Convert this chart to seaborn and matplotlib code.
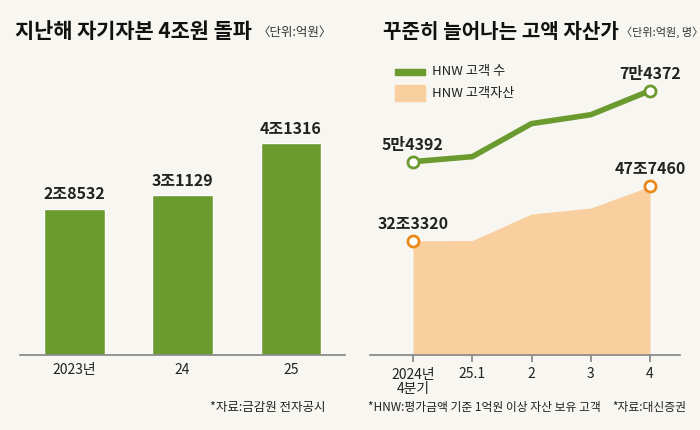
import matplotlib
matplotlib.use("Agg")
import matplotlib.pyplot as plt
import seaborn as sns
import pandas as pd

sns.set_theme(style="white")
plt.rcParams['font.family'] = ['Noto Sans CJK KR', 'DejaVu Sans']

bar_cats = ["2023년", "24", "25"]
equity = [28532, 31129, 41316]  # 억원

quarters = ["2024년\n4분기", "25.1", "2", "3", "4"]
hnw_count = [54392, 55800, 65100, 67600, 74372]  # 명
hnw_assets = [323320, 324000, 399000, 416000, 477460]  # 억원

BG = "#f7f6f1"
GREEN = "#6b9a2f"
AREA = "#f9cf9f"
ORANGE = "#e8891a"

def jo(v):
    return f"{v//10000}조{v%10000:04d}"

def man(v):
    return f"{v//10000}만{v%10000:04d}"

fig = plt.figure(figsize=(7, 4.3), dpi=100, facecolor=BG)

# Left chart
ax1 = fig.add_axes([20/700, 1-355/430, 325/700, 295/430], facecolor=BG)
df = pd.DataFrame({"cat": bar_cats, "v": equity})
sns.barplot(data=df, x="cat", y="v", color=GREEN, width=0.56, ax=ax1, saturation=1)
ax1.set_ylim(0, 57500)
for i, v in enumerate(equity):
    ax1.text(i, v + 1200, jo(v), ha="center", va="bottom", fontsize=11.5,
             fontweight="bold", color="#222")
ax1.set_xlabel(""); ax1.set_ylabel("")
ax1.set_yticks([])
for s in ["top", "left", "right"]:
    ax1.spines[s].set_visible(False)
ax1.spines["bottom"].set_color("#888")
ax1.tick_params(axis="x", length=0, labelsize=10, colors="#222", pad=6)

# Right chart
ax2 = fig.add_axes([370/700, 1-355/430, 310/700, 295/430], facecolor=BG)
x = list(range(len(quarters)))
ax2.fill_between(x, 0, hnw_assets, color=AREA, lw=0)
ax2.set_ylim(0, 835000)
ax2.set_xlim(-0.726, 4.506)
ax2.plot([x[0], x[-1]], [hnw_assets[0], hnw_assets[-1]], "o", ms=8,
         mfc="white", mec=ORANGE, mew=2, zorder=5)
ax2.text(x[0], hnw_assets[0] + 25000, jo(hnw_assets[0]), ha="center", va="bottom",
         fontsize=11.5, fontweight="bold", color="#222")
ax2.text(x[-1], hnw_assets[-1] + 25000, jo(hnw_assets[-1]), ha="center", va="bottom",
         fontsize=11.5, fontweight="bold", color="#222")
ax2.set_xticks(x)
ax2.set_xticklabels(quarters, fontsize=10, color="#222", linespacing=1.0)
ax2.tick_params(axis="x", length=5, color="#888", pad=4, direction="out", bottom=True)
ax2.set_yticks([])
for s in ["top", "left", "right"]:
    ax2.spines[s].set_visible(False)
ax2.spines["bottom"].set_color("#888")

ax3 = ax2.twinx()
ax3.set_ylim(0, 83000)
sns.lineplot(x=x, y=hnw_count, color=GREEN, lw=4, ax=ax3)
ax3.plot([x[0], x[-1]], [hnw_count[0], hnw_count[-1]], "o", ms=8,
         mfc="white", mec=GREEN, mew=2, zorder=5)
ax3.text(x[0], hnw_count[0] + 2500, man(hnw_count[0]), ha="center", va="bottom",
         fontsize=11.5, fontweight="bold", color="#222")
ax3.text(x[-1], hnw_count[-1] + 2500, man(hnw_count[-1]), ha="center", va="bottom",
         fontsize=11.5, fontweight="bold", color="#222")
ax3.set_yticks([])
for s in ax3.spines.values():
    s.set_visible(False)

# legend
fig.patches.append(plt.Rectangle((395/700, 1-75/430), 30/700, 6/430, color=GREEN,
                                 transform=fig.transFigure, figure=fig))
fig.patches.append(plt.Rectangle((395/700, 1-101/430), 30/700, 16/430, color=AREA,
                                 transform=fig.transFigure, figure=fig))
fig.text(432/700, 1-72/430, "HNW 고객 수", fontsize=9.5, va="center", color="#222")
fig.text(432/700, 1-93/430, "HNW 고객자산", fontsize=9.5, va="center", color="#222")

# titles
fig.text(15/700, 1-32/430, "지난해 자기자본 4조원 돌파", fontsize=15, fontweight="bold",
         va="center", color="#111")
fig.text(258/700, 1-32/430, "〈단위:억원〉", fontsize=9, va="center", color="#333")
fig.text(383/700, 1-32/430, "꾸준히 늘어나는 고액 자산가", fontsize=14.5, fontweight="bold",
         va="center", color="#111")
fig.text(621/700, 1-32/430, "〈단위:억원, 명〉", fontsize=8, va="center", color="#333")

# footnotes
fig.text(210/700, 1-408/430, "*자료:금감원 전자공시", fontsize=9, va="center", color="#222")
fig.text(368/700, 1-408/430, "*HNW:평가금액 기준 1억원 이상 자산 보유 고객", fontsize=8.5,
         va="center", color="#222")
fig.text(612/700, 1-408/430, "*자료:대신증권", fontsize=8.5, va="center", color="#222")

fig.savefig("out.png", dpi=100, facecolor=BG)
